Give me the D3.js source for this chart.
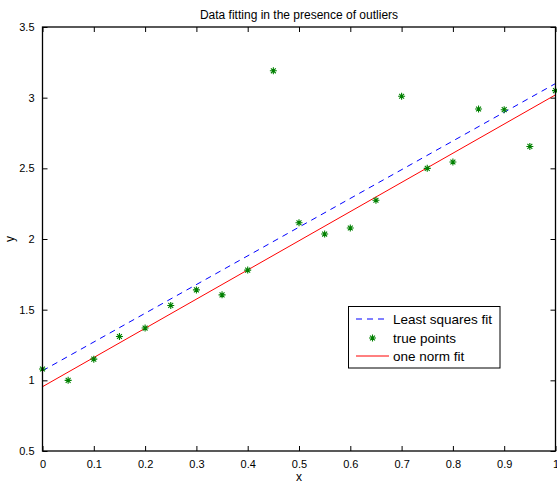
<!DOCTYPE html>
<html><head><meta charset="utf-8">
<script src="https://cdn.jsdelivr.net/npm/d3@7"></script>
<style>body{margin:0;background:#fff}svg{display:block}text{font-family:"Liberation Sans",Arial,sans-serif;fill:#000}</style>
</head><body><svg id="c" width="557" height="483"></svg>
<script>
const xs = [0,0.05,0.1,0.15,0.2,0.25,0.3,0.35,0.4,0.45,0.5,0.55,0.6,0.65,0.7,0.75,0.8,0.85,0.9,0.95,1.0];
const ys = [1.08,1.00,1.15,1.31,1.37,1.53,1.64,1.605,1.78,3.19,2.115,2.035,2.078,2.274,3.01,2.50,2.545,2.92,2.915,2.655,3.05];
const lsFit = [1.068,3.10];   // least squares line at x=0 and x=1
const l1Fit = [0.955,3.02];   // one norm line at x=0 and x=1
const xTicks = [0,0.1,0.2,0.3,0.4,0.5,0.6,0.7,0.8,0.9,1];
const yTicks = [0.5,1,1.5,2,2.5,3,3.5];
const legendLabels = ["Least squares fit","true points","one norm fit"];

(function(){
const svg = d3.select("#c");
const L=42.5,R=555.5,T=27,B=451;
const x = d3.scaleLinear().domain([0,1]).range([L,R]);
const y = d3.scaleLinear().domain([0.5,3.5]).range([B,T]);

svg.append("clipPath").attr("id","cp").append("rect").attr("x",L).attr("y",T).attr("width",R-L).attr("height",B-T);
const g = svg.append("g").attr("clip-path","url(#cp)");

const line = d3.line().x(d=>x(d[0])).y(d=>y(d[1]));
g.append("path").attr("d",line([[0,lsFit[0]],[1,lsFit[1]]])).attr("stroke","#0000ff").attr("stroke-width",1).attr("stroke-dasharray","6,5").attr("fill","none");
g.append("path").attr("d",line([[0,l1Fit[0]],[1,l1Fit[1]]])).attr("stroke","#ff0000").attr("stroke-width",1).attr("fill","none");

function star(sel,cx,cy,r){
  const d = `M${cx-r},${cy}L${cx+r},${cy}M${cx},${cy-r}L${cx},${cy+r}M${cx-r*0.7},${cy-r*0.7}L${cx+r*0.7},${cy+r*0.7}M${cx-r*0.7},${cy+r*0.7}L${cx+r*0.7},${cy-r*0.7}`;
  sel.append("path").attr("d",d).attr("stroke","#008000").attr("stroke-width",1.1).attr("fill","none");
}
const pg = svg.append("g");
xs.forEach((v,i)=>star(pg,x(v),y(ys[i]),3.5));

const ax = svg.append("g");
ax.append("rect").attr("x",L).attr("y",T).attr("width",R-L).attr("height",B-T).attr("fill","none").attr("stroke","#000").attr("stroke-width",1.3);
const tl=5;
const axB = d3.axisBottom(x).tickValues(xTicks).tickSize(-tl).tickPadding(9).tickFormat(d=>String(+d.toFixed(1)));
const axT = d3.axisTop(x).tickValues(xTicks).tickSize(-tl).tickFormat("");
const axL = d3.axisLeft(y).tickValues(yTicks).tickSize(-tl).tickPadding(8).tickFormat(d=>String(d));
const axR = d3.axisRight(y).tickValues(yTicks).tickSize(-tl).tickFormat("");
function style(s){s.select(".domain").remove();s.selectAll(".tick line").attr("stroke","#000");s.selectAll("text").attr("font-size",11).attr("font-family","Liberation Sans, Arial, sans-serif").attr("fill","#000");}
ax.append("g").attr("transform",`translate(0,${B})`).call(axB).call(style);
ax.append("g").attr("transform",`translate(0,${T})`).call(axT).call(style);
ax.append("g").attr("transform",`translate(${L},0)`).call(axL).call(style);
ax.append("g").attr("transform",`translate(${R},0)`).call(axR).call(style);

svg.append("text").attr("x",(L+R)/2).attr("y",19).attr("text-anchor","middle").attr("font-size",12).text("Data fitting in the presence of outliers");
svg.append("text").attr("x",(L+R)/2).attr("y",481).attr("text-anchor","middle").attr("font-size",12).text("x");
svg.append("text").attr("transform",`translate(14,${(T+B)/2}) rotate(-90)`).attr("text-anchor","middle").attr("font-size",12).text("y");

const lg = svg.append("g");
lg.append("rect").attr("x",348.5).attr("y",306.5).attr("width",151.5).attr("height",61.5).attr("fill","#fff").attr("stroke","#000").attr("stroke-width",1);
const rowsY=[319,338,356];
lg.append("line").attr("x1",356).attr("x2",389).attr("y1",rowsY[0]).attr("y2",rowsY[0]).attr("stroke","#0000ff").attr("stroke-dasharray","6,5");
star(lg,372.5,rowsY[1],3.5);
lg.append("line").attr("x1",356).attr("x2",389).attr("y1",rowsY[2]).attr("y2",rowsY[2]).attr("stroke","#ff0000");
legendLabels.forEach((t,i)=>lg.append("text").attr("x",393).attr("y",rowsY[i]+5).attr("font-size",13.5).text(t));
})();
</script></body></html>
